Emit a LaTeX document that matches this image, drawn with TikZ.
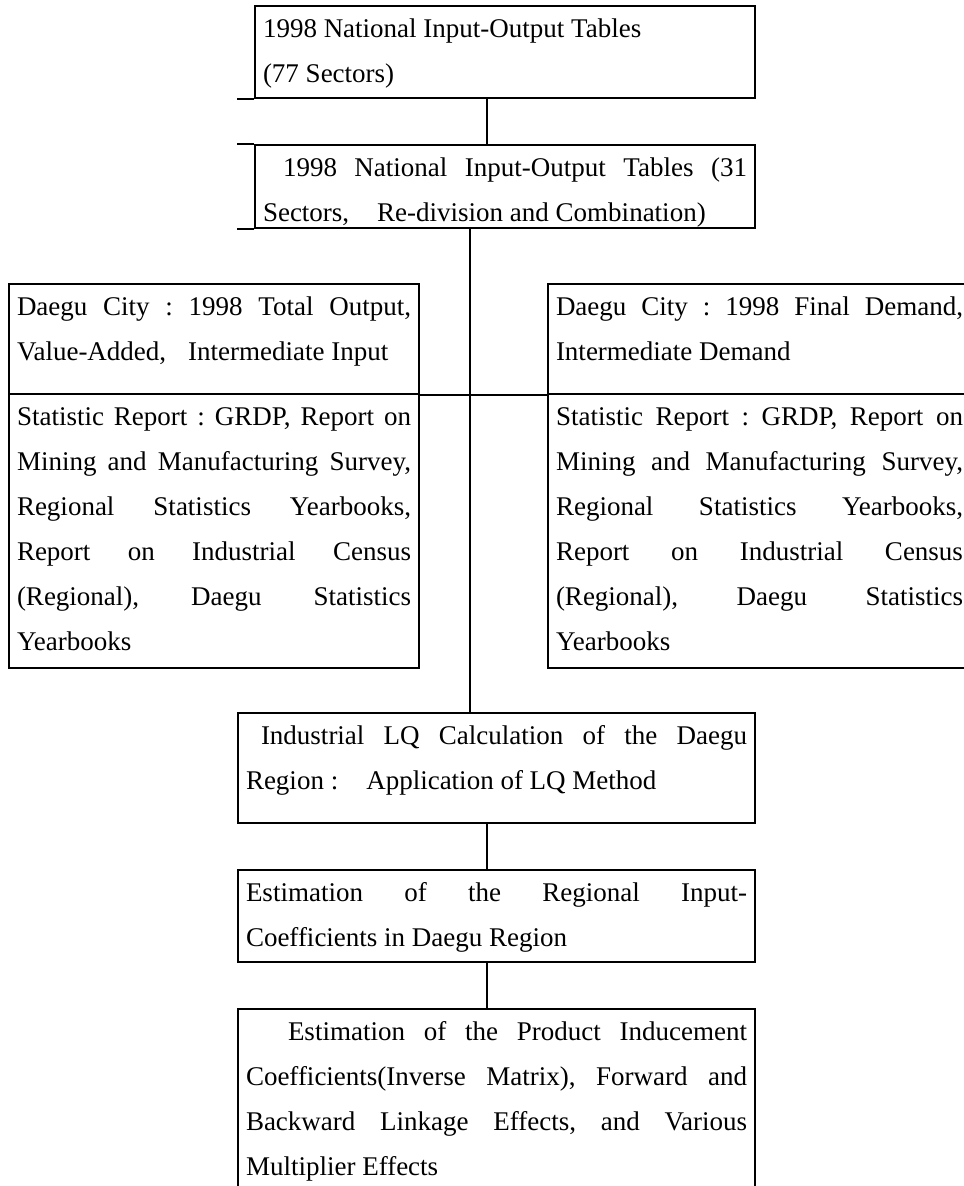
\documentclass[tikz,border=0pt]{standalone}
\usepackage{fontspec}
\setmainfont{Liberation Serif}
\usepackage{tikz}

\newlength\pxu
\setlength\pxu{0.75pt}
\newcommand\cellfont{\fontsize{20.25pt}{33.75pt}\selectfont\frenchspacing}

\tikzset{
  cell/.style={draw, anchor=north west, inner xsep=8\pxu, inner ysep=0pt,
    text height=31\pxu, align=justify, font=\cellfont}
}

\begin{document}
\begin{tikzpicture}[x=0.75pt, y=-0.75pt, line width=1.5pt]
    \useasboundingbox (0,0) rectangle (964,1186);
    \begin{scope}
    \clip (0,0) rectangle (964,1186);

    % Draw the national tables
    \node[cell, text width=484\pxu, text depth=61\pxu] (in77) at (254,5)
      {1998 National Input-Output Tables\newline (77 Sectors)};
    \node[cell, text width=484\pxu, text depth=52\pxu] (in31) at (254,144)
      {\hspace*{20\pxu}1998 National Input-Output Tables (31\linebreak
       Sectors,\hspace{28\pxu}Re-division and Combination)};
    \draw (in77.south west) -- ++(-17,0);
    \draw (in31.north west) -- ++(-17,0);
    \draw (in31.south west) -- ++(-17,0);

    % Draw the Daegu data boxes
    \node[cell, text width=394\pxu, text depth=79\pxu] (output) at (8,283)
      {Daegu City : 1998 Total Output,\linebreak
       Value-Added,\hspace{22\pxu}Intermediate Input};
    \node[cell, text width=394\pxu, text depth=243\pxu] (reportL) at (8,393)
      {Statistic Report : GRDP, Report on\linebreak
       Mining and Manufacturing Survey,\linebreak
       Regional Statistics Yearbooks,\linebreak
       Report on Industrial Census\linebreak
       (Regional), Daegu Statistics\linebreak
       Yearbooks};
    \node[cell, text width=407\pxu, text depth=79\pxu] (demand) at (547,283)
      {Daegu City : 1998 Final Demand,\linebreak
       Intermediate Demand};
    \node[cell, text width=407\pxu, text depth=243\pxu] (reportR) at (547,393)
      {Statistic Report : GRDP, Report on\linebreak
       Mining and Manufacturing Survey,\linebreak
       Regional Statistics Yearbooks,\linebreak
       Report on Industrial Census\linebreak
       (Regional), Daegu Statistics\linebreak
       Yearbooks};

    % Draw the estimation steps
    \node[cell, text width=501\pxu, text depth=79\pxu] (lq) at (237,712)
      {\hspace*{15\pxu}Industrial LQ Calculation of the Daegu\linebreak
       Region :\hspace{28\pxu}Application of LQ Method};
    \node[cell, text width=501\pxu, text depth=61\pxu] (coef) at (237,869)
      {Estimation of the Regional Input-\linebreak
       Coefficients in Daegu Region};
    \node[cell, text width=501\pxu, text depth=161\pxu] (effect) at (237,1008)
      {\hspace*{42\pxu}Estimation of the Product Inducement\linebreak
       Coefficients(Inverse Matrix), Forward and\linebreak
       Backward Linkage Effects, and Various\linebreak
       Multiplier Effects};

    % Draw the connectors
    \coordinate (trunk) at (487,0);
    \coordinate (spine) at (470,0);
    \draw (in77.south -| trunk) -- (in31.north -| trunk);
    \draw (in31.south -| spine) -- (lq.north -| spine);
    \draw (output.south east) -- (demand.south west);
    \draw (lq.south -| trunk) -- (coef.north -| trunk);
    \draw (coef.south -| trunk) -- (effect.north -| trunk);
    \end{scope}
\end{tikzpicture}
\end{document}
